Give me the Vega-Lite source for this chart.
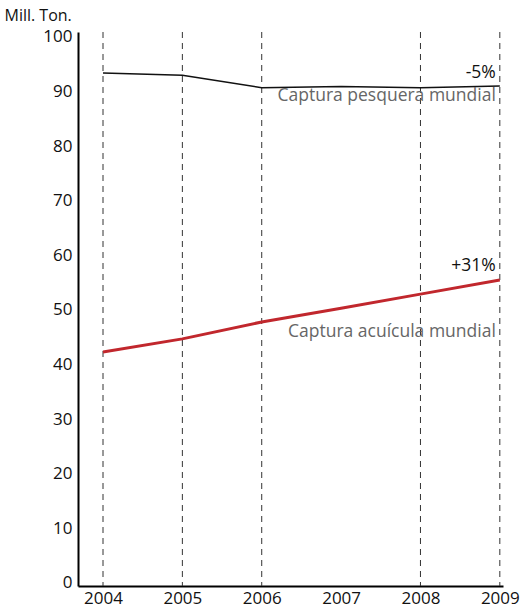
{
  "$schema": "https://vega.github.io/schema/vega-lite/v6.json",
  "width": 425,
  "height": 554,
  "autosize": "none",
  "padding": {"left": 78, "top": 32, "right": 22, "bottom": 26},
  "background": "white",
  "config": {"view": {"stroke": null}, "font": "Open Sans"},
  "datasets": {
    "series": [
      {"year": 2004, "value": 93.4, "serie": "pesquera"},
      {"year": 2005, "value": 93.0, "serie": "pesquera"},
      {"year": 2006, "value": 90.7, "serie": "pesquera"},
      {"year": 2007, "value": 90.9, "serie": "pesquera"},
      {"year": 2008, "value": 90.7, "serie": "pesquera"},
      {"year": 2009, "value": 91.0, "serie": "pesquera"},
      {"year": 2004, "value": 42.3, "serie": "acuicola"},
      {"year": 2005, "value": 44.7, "serie": "acuicola"},
      {"year": 2006, "value": 47.8, "serie": "acuicola"},
      {"year": 2007, "value": 50.3, "serie": "acuicola"},
      {"year": 2008, "value": 52.9, "serie": "acuicola"},
      {"year": 2009, "value": 55.5, "serie": "acuicola"}
    ],
    "grid": [
      {"year": 2004}, {"year": 2005}, {"year": 2006}, {"year": 2008}, {"year": 2009}
    ],
    "notes": [
      {"year": 2009, "value": 93.4, "text": "-5%", "kind": "pct"},
      {"year": 2009, "value": 89.2, "text": "Captura pesquera mundial", "kind": "name"},
      {"year": 2009, "value": 58.1, "text": "+31%", "kind": "pct"},
      {"year": 2009, "value": 46.0, "text": "Captura acuícula mundial", "kind": "name"}
    ]
  },
  "layer": [
    {
      "data": {"name": "grid"},
      "mark": {"type": "rule", "strokeDash": [6, 5], "color": "#333333", "strokeWidth": 1},
      "encoding": {
        "x": {"field": "year", "type": "quantitative"}
      }
    },
    {
      "data": {"name": "series"},
      "transform": [{"filter": "datum.serie === 'pesquera'"}],
      "mark": {"type": "line", "color": "#111111", "strokeWidth": 1.5},
      "encoding": {
        "x": {
          "field": "year", "type": "quantitative",
          "scale": {"domain": [2003.685, 2009.04], "nice": false, "zero": false},
          "axis": {
            "values": [2004, 2005, 2006, 2007, 2008, 2009],
            "format": "d", "title": null, "grid": false, "ticks": false,
            "domainColor": "#000000", "domainWidth": 2,
            "labelFontSize": 17, "labelColor": "#111111", "labelPadding": 4,
            "labelFont": "Open Sans"
          }
        },
        "y": {
          "field": "value", "type": "quantitative",
          "scale": {"domain": [-0.55, 100.9], "nice": false, "zero": false},
          "axis": {
            "values": [0, 10, 20, 30, 40, 50, 60, 70, 80, 90, 100],
            "title": "Mill. Ton.", "titleAngle": 0, "titleAlign": "left",
            "titleX": -74, "titleY": -9, "titleBaseline": "bottom",
            "titleFontSize": 16, "titleFontWeight": "normal", "titleColor": "#111111",
            "titleFont": "Open Sans",
            "grid": false, "ticks": false,
            "domainColor": "#000000", "domainWidth": 2,
            "labelFontSize": 17, "labelColor": "#111111", "labelPadding": 6,
            "labelFont": "Open Sans"
          }
        }
      }
    },
    {
      "data": {"name": "series"},
      "transform": [{"filter": "datum.serie === 'acuicola'"}],
      "mark": {"type": "line", "color": "#c1272d", "strokeWidth": 3},
      "encoding": {
        "x": {"field": "year", "type": "quantitative"},
        "y": {"field": "value", "type": "quantitative"}
      }
    },
    {
      "data": {"name": "notes"},
      "mark": {"type": "text", "align": "right", "baseline": "middle", "fontSize": 17.5, "dx": -4},
      "encoding": {
        "x": {"field": "year", "type": "quantitative"},
        "y": {"field": "value", "type": "quantitative"},
        "text": {"field": "text"},
        "color": {
          "field": "kind", "type": "nominal",
          "scale": {"domain": ["pct", "name"], "range": ["#111111", "#666666"]},
          "legend": null
        }
      }
    }
  ]
}
